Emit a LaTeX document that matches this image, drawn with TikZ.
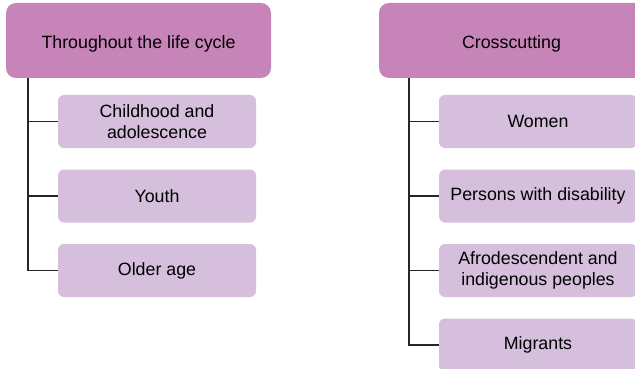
\documentclass[tikz,border=0pt]{standalone}
\usepackage{fontspec}
\setmainfont{Liberation Sans}
\definecolor{headpink}{HTML}{C784B8}
\definecolor{itemlilac}{HTML}{D5BFDD}
\tikzset{
  head/.style={fill=headpink,rounded corners=10pt,minimum width=265pt,minimum height=75pt,inner sep=0pt,text height=17pt,text depth=0pt},
  item/.style={fill=itemlilac,rounded corners=6pt,minimum width=198pt,minimum height=53pt,inner sep=0pt,align=center},
  trunk/.style={line width=1.4pt,color=black!85}
}
\begin{document}
\begin{tikzpicture}[x=1pt,y=1pt,font=\fontsize{17.8}{21}\selectfont]
\useasboundingbox (0,0) rectangle (635,-369);
\clip (0,0) rectangle (635,-369);
\node[head] (life) at (138.5,-40.5) {Throughout the life cycle};
\node[head] (cross) at (511.5,-40.5) {Crosscutting};
\coordinate (lifetrunk) at (28,-78);
\coordinate (crosstrunk) at (409,-78);
\foreach \n/\y/\t in {childhood/121.5/{Childhood and\\adolescence},youth/196/Youth,older/270.5/Older age}
  {\node[item] (\n) at (157,-\y) {\t}; \draw[trunk] (lifetrunk) |- (\n.west);}
\foreach \n/\y/\t in {women/121.5/Women,disability/196/Persons with disability,afro/270.5/{Afrodescendent and\\indigenous peoples},migrants/345/Migrants}
  {\node[item] (\n) at (538,-\y) {\t}; \draw[trunk] (crosstrunk) |- (\n.west);}
\end{tikzpicture}
\end{document}
